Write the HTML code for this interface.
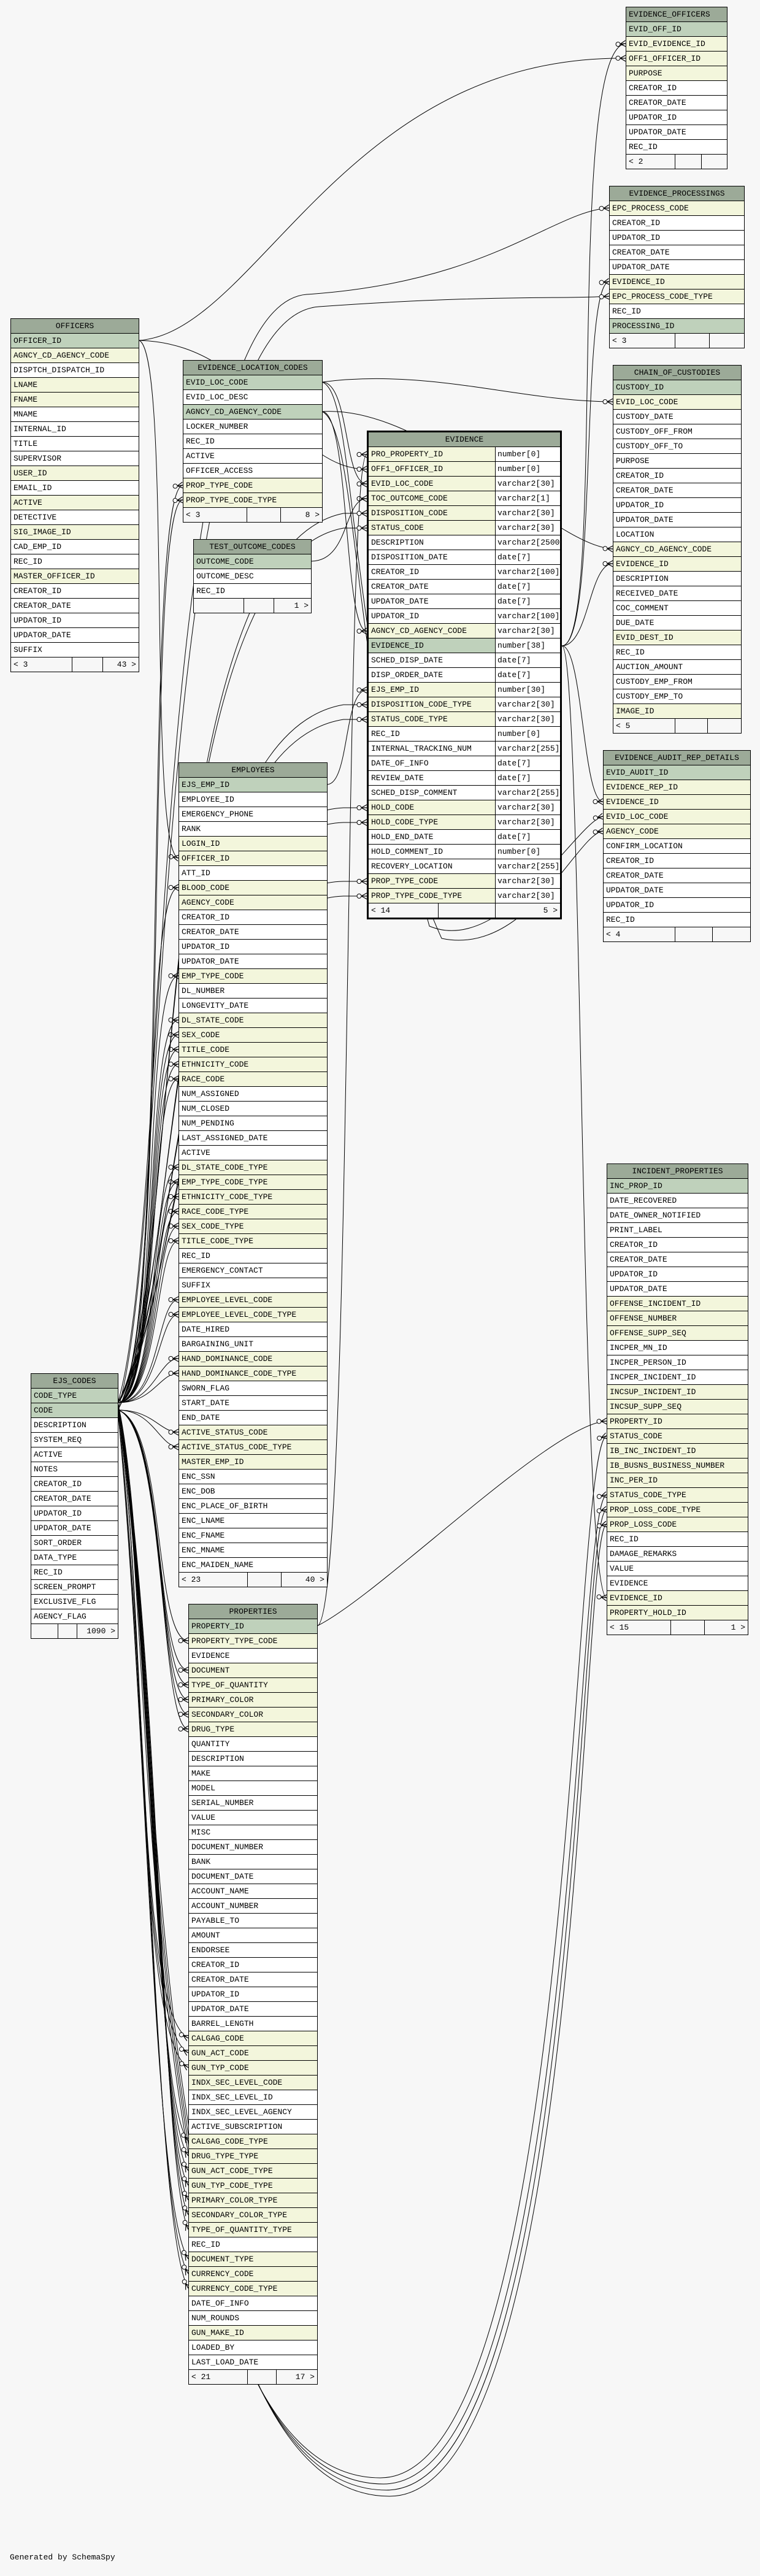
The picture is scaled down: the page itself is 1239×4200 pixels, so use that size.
<!DOCTYPE html>
<html><head><meta charset="utf-8"><style>
html,body{margin:0;padding:0;background:#f7f7f7;}
body{width:1239px;height:4200px;position:relative;overflow:hidden;font-family:"Liberation Mono","DejaVu Sans Mono",monospace;font-size:13px;color:#000;}
svg.c{position:absolute;left:0;top:0;z-index:1;}
.t{position:absolute;z-index:2;border:1px solid #000;background:#fff;}
.t div.r{height:23px;line-height:23px;border-bottom:1px solid #000;padding-left:4px;white-space:nowrap;overflow:hidden;}
.t div.h{background:#9caa98;text-align:center;padding-left:0;}
.t div.p{background:#bfd1bb;}
.t div.f{background:#f3f6dc;}
.t div.ft{display:flex;height:23px;line-height:23px;background:#f7f7f7;}
.ft span{border-right:1px solid #000;padding:0 4px;box-sizing:border-box;white-space:nowrap;}
.ft span:last-child{border-right:none;text-align:right;}
.ev{border:3px solid #000;}
.ev .r{display:flex;padding-left:0 !important;}
.ev .r span.a{width:207px;padding-left:4px;border-right:1px solid #000;box-sizing:border-box;flex:none;}
.ev .r span.b{padding-left:3px;background:#fff;flex:1;}
.gen{position:absolute;left:16px;top:4162px;font-size:13px;}
</style></head><body>

<svg class="c" width="1239" height="4200" viewBox="0 0 1239 4200">
<defs>
<marker id="m" markerUnits="userSpaceOnUse" markerWidth="18" markerHeight="12" refX="17" refY="6" orient="auto">
<circle cx="4.5" cy="6" r="3.5" fill="#fff" stroke="#000" stroke-width="1"/>
<path d="M8,6 L17,1 M8,6 L17,6 M8,6 L17,11" stroke="#000" stroke-width="1.2" fill="none"/>
</marker>
</defs>
<g fill="none" stroke="#000" stroke-width="1" marker-end="url(#m)">
<path d="M227,555 C420,540 560,90 1020,95"/>
<path d="M227,555 C420,560 470,765 598,765"/>
<path d="M227,555 C280,580 240,1390 291,1399"/>
<path d="M916,1053 C990,1053 920,80 1020,71"/>
<path d="M916,1053 C975,1053 945,465 993,459"/>
<path d="M916,1053 C960,1053 960,919 999,919"/>
<path d="M916,1053 C950,1053 950,1307 983,1307"/>
<path d="M916,1053 C950,1053 945,2600 989,2605"/>
<path d="M525,623 C570,623 560,789 598,789"/>
<path d="M525,623 C700,600 850,655 999,655"/>
<path d="M525,623 C580,640 560,1000 700,1510 C820,1560 940,1340 983,1331"/>
<path d="M525,671 C570,671 560,1029 598,1029"/>
<path d="M525,671 C700,660 900,890 999,895"/>
<path d="M525,671 C590,700 570,1200 720,1530 C860,1560 940,1360 983,1355"/>
<path d="M507,915 C570,915 560,813 598,813"/>
<path d="M533,1279 C570,1279 560,1125 598,1125"/>
<path d="M517,2651 C575,2640 560,741 598,741"/>
<path d="M517,2651 C620,2600 900,2320 989,2317"/>
<path d="M192,2287 C260,2287 230,1447 291,1447"/>
<path d="M192,2287 C260,2287 232,1591 291,1591"/>
<path d="M192,2287 C260,2287 234,1663 291,1663"/>
<path d="M192,2287 C260,2287 236,1687 291,1687"/>
<path d="M192,2287 C260,2287 238,1711 291,1711"/>
<path d="M192,2287 C260,2287 240,1735 291,1735"/>
<path d="M192,2287 C260,2287 242,1759 291,1759"/>
<path d="M192,2287 C260,2287 244,1903 291,1903"/>
<path d="M192,2287 C260,2287 246,1927 291,1927"/>
<path d="M192,2287 C260,2287 248,1951 291,1951"/>
<path d="M192,2287 C260,2287 250,1975 291,1975"/>
<path d="M192,2287 C260,2287 252,1999 291,1999"/>
<path d="M192,2287 C260,2287 254,2023 291,2023"/>
<path d="M192,2287 C260,2287 256,2119 291,2119"/>
<path d="M192,2287 C260,2287 258,2143 291,2143"/>
<path d="M192,2287 C250,2287 260,2215 291,2215"/>
<path d="M192,2287 C250,2287 260,2239 291,2239"/>
<path d="M192,2299 C250,2299 260,2335 291,2335"/>
<path d="M192,2299 C250,2299 260,2359 291,2359"/>
<path d="M192,2299 C270,2320 250,2675 307,2675"/>
<path d="M192,2299 C270,2320 252,2723 307,2723"/>
<path d="M192,2299 C270,2320 254,2747 307,2747"/>
<path d="M192,2299 C270,2320 256,2771 307,2771"/>
<path d="M192,2299 C270,2320 258,2795 307,2795"/>
<path d="M192,2299 C270,2320 260,2819 307,2819"/>
<path d="M192,2299 C240,2600 220,3280 307,3323"/>
<path d="M192,2299 C240,2600 220,3300 307,3347"/>
<path d="M192,2299 C240,2600 220,3320 307,3371"/>
<path d="M192,2287 C250,2700 250,3420 307,3491"/>
<path d="M192,2287 C252,2700 252,3440 307,3515"/>
<path d="M192,2287 C254,2700 254,3460 307,3539"/>
<path d="M192,2287 C256,2700 256,3480 307,3563"/>
<path d="M192,2287 C258,2700 258,3500 307,3587"/>
<path d="M192,2287 C260,2700 260,3520 307,3611"/>
<path d="M192,2287 C262,2700 262,3540 307,3635"/>
<path d="M192,2299 C240,2800 250,3600 307,3683"/>
<path d="M192,2299 C242,2800 252,3620 307,3707"/>
<path d="M192,2287 C244,2800 254,3640 307,3731"/>
<path d="M192,2287 C280,2200 230,800 298,791"/>
<path d="M192,2287 C282,2200 232,820 298,815"/>
<path d="M192,2299 C300,2100 240,900 560,837 C580,837 585,837 598,837"/>
<path d="M192,2287 C300,2100 240,920 560,861 C580,861 585,861 598,861"/>
<path d="M192,2299 C300,2100 260,1200 560,1149 C580,1149 585,1149 598,1149"/>
<path d="M192,2287 C300,2100 260,1220 560,1173 C580,1173 585,1173 598,1173"/>
<path d="M192,2299 C300,2100 280,1330 560,1317 C580,1317 585,1317 598,1317"/>
<path d="M192,2287 C300,2100 280,1350 560,1341 C580,1341 585,1341 598,1341"/>
<path d="M192,2299 C300,2100 300,1440 560,1437 C580,1437 585,1437 598,1437"/>
<path d="M192,2287 C300,2100 300,1470 560,1461 C580,1461 585,1461 598,1461"/>
<path d="M192,2287 C280,2000 240,500 500,480 C800,460 900,345 993,339"/>
<path d="M192,2299 C282,2000 242,520 520,500 C800,480 920,488 993,483"/>
<path d="M192,2299 C260,2600 200,4040 620,4040 C940,4040 930,2360 989,2341"/>
<path d="M192,2287 C262,2600 205,4050 625,4050 C945,4050 935,2450 989,2437"/>
<path d="M192,2299 C264,2600 210,4060 630,4060 C950,4060 940,2470 989,2461"/>
<path d="M192,2287 C266,2600 215,4070 635,4070 C955,4070 945,2495 989,2485"/>
</g>
</svg>

<div class="t" style="left:1020px;top:11px;width:164px;">
<div class="r h" style="text-align:left;padding-left:4px">EVIDENCE_OFFICERS</div>
<div class="r p">EVID_OFF_ID</div><div class="r f">EVID_EVIDENCE_ID</div><div class="r f">OFF1_OFFICER_ID</div><div class="r f">PURPOSE</div>
<div class="r">CREATOR_ID</div><div class="r">CREATOR_DATE</div><div class="r">UPDATOR_ID</div><div class="r">UPDATOR_DATE</div><div class="r">REC_ID</div>
<div class="ft"><span style="width:80px">&lt; 2</span><span style="width:43px"></span><span style="width:41px"></span></div>
</div>

<div class="t" style="left:993px;top:303px;width:219px;">
<div class="r h">EVIDENCE_PROCESSINGS</div>
<div class="r f">EPC_PROCESS_CODE</div><div class="r">CREATOR_ID</div><div class="r">UPDATOR_ID</div><div class="r">CREATOR_DATE</div><div class="r">UPDATOR_DATE</div>
<div class="r f">EVIDENCE_ID</div><div class="r f">EPC_PROCESS_CODE_TYPE</div><div class="r">REC_ID</div><div class="r p">PROCESSING_ID</div>
<div class="ft"><span style="width:107px">&lt; 3</span><span style="width:56px"></span><span style="width:56px"></span></div>
</div>

<div class="t" style="left:17px;top:519px;width:208px;">
<div class="r h">OFFICERS</div>
<div class="r p">OFFICER_ID</div><div class="r f">AGNCY_CD_AGENCY_CODE</div><div class="r">DISPTCH_DISPATCH_ID</div><div class="r f">LNAME</div><div class="r f">FNAME</div>
<div class="r">MNAME</div><div class="r">INTERNAL_ID</div><div class="r">TITLE</div><div class="r">SUPERVISOR</div><div class="r f">USER_ID</div><div class="r">EMAIL_ID</div>
<div class="r f">ACTIVE</div><div class="r">DETECTIVE</div><div class="r f">SIG_IMAGE_ID</div><div class="r">CAD_EMP_ID</div><div class="r">REC_ID</div><div class="r f">MASTER_OFFICER_ID</div>
<div class="r">CREATOR_ID</div><div class="r">CREATOR_DATE</div><div class="r">UPDATOR_ID</div><div class="r">UPDATOR_DATE</div><div class="r">SUFFIX</div>
<div class="ft"><span style="width:100px">&lt; 3</span><span style="width:50px"></span><span style="width:58px">43 &gt;</span></div>
</div>

<div class="t" style="left:298px;top:587px;width:226px;">
<div class="r h">EVIDENCE_LOCATION_CODES</div>
<div class="r p">EVID_LOC_CODE</div><div class="r">EVID_LOC_DESC</div><div class="r p">AGNCY_CD_AGENCY_CODE</div><div class="r">LOCKER_NUMBER</div>
<div class="r">REC_ID</div><div class="r">ACTIVE</div><div class="r">OFFICER_ACCESS</div><div class="r f">PROP_TYPE_CODE</div><div class="r f">PROP_TYPE_CODE_TYPE</div>
<div class="ft"><span style="width:104px">&lt; 3</span><span style="width:55px"></span><span style="width:67px">8 &gt;</span></div>
</div>

<div class="t" style="left:315px;top:879px;width:191px;">
<div class="r h">TEST_OUTCOME_CODES</div>
<div class="r p">OUTCOME_CODE</div><div class="r">OUTCOME_DESC</div><div class="r">REC_ID</div>
<div class="ft"><span style="width:82px"></span><span style="width:49px"></span><span style="width:60px">1 &gt;</span></div>
</div>

<div class="t" style="left:999px;top:595px;width:208px;">
<div class="r h">CHAIN_OF_CUSTODIES</div>
<div class="r p">CUSTODY_ID</div><div class="r f">EVID_LOC_CODE</div><div class="r">CUSTODY_DATE</div><div class="r">CUSTODY_OFF_FROM</div><div class="r">CUSTODY_OFF_TO</div>
<div class="r">PURPOSE</div><div class="r">CREATOR_ID</div><div class="r">CREATOR_DATE</div><div class="r">UPDATOR_ID</div><div class="r">UPDATOR_DATE</div><div class="r">LOCATION</div>
<div class="r f">AGNCY_CD_AGENCY_CODE</div><div class="r f">EVIDENCE_ID</div><div class="r">DESCRIPTION</div><div class="r">RECEIVED_DATE</div><div class="r">COC_COMMENT</div>
<div class="r">DUE_DATE</div><div class="r f">EVID_DEST_ID</div><div class="r">REC_ID</div><div class="r">AUCTION_AMOUNT</div><div class="r">CUSTODY_EMP_FROM</div><div class="r">CUSTODY_EMP_TO</div><div class="r f">IMAGE_ID</div>
<div class="ft"><span style="width:101px">&lt; 5</span><span style="width:53px"></span><span style="width:54px"></span></div>
</div>

<div class="t ev" style="left:598px;top:702px;width:312px;">
<div class="r h" style="display:block;text-align:center">EVIDENCE</div>
<div class="r f"><span class="a">PRO_PROPERTY_ID</span><span class="b">number[0]</span></div>
<div class="r f"><span class="a">OFF1_OFFICER_ID</span><span class="b">number[0]</span></div>
<div class="r f"><span class="a">EVID_LOC_CODE</span><span class="b">varchar2[30]</span></div>
<div class="r f"><span class="a">TOC_OUTCOME_CODE</span><span class="b">varchar2[1]</span></div>
<div class="r f"><span class="a">DISPOSITION_CODE</span><span class="b">varchar2[30]</span></div>
<div class="r f"><span class="a">STATUS_CODE</span><span class="b">varchar2[30]</span></div>
<div class="r"><span class="a">DESCRIPTION</span><span class="b">varchar2[2500]</span></div>
<div class="r"><span class="a">DISPOSITION_DATE</span><span class="b">date[7]</span></div>
<div class="r"><span class="a">CREATOR_ID</span><span class="b">varchar2[100]</span></div>
<div class="r"><span class="a">CREATOR_DATE</span><span class="b">date[7]</span></div>
<div class="r"><span class="a">UPDATOR_DATE</span><span class="b">date[7]</span></div>
<div class="r"><span class="a">UPDATOR_ID</span><span class="b">varchar2[100]</span></div>
<div class="r f"><span class="a">AGNCY_CD_AGENCY_CODE</span><span class="b">varchar2[30]</span></div>
<div class="r p"><span class="a">EVIDENCE_ID</span><span class="b">number[38]</span></div>
<div class="r"><span class="a">SCHED_DISP_DATE</span><span class="b">date[7]</span></div>
<div class="r"><span class="a">DISP_ORDER_DATE</span><span class="b">date[7]</span></div>
<div class="r f"><span class="a">EJS_EMP_ID</span><span class="b">number[30]</span></div>
<div class="r f"><span class="a">DISPOSITION_CODE_TYPE</span><span class="b">varchar2[30]</span></div>
<div class="r f"><span class="a">STATUS_CODE_TYPE</span><span class="b">varchar2[30]</span></div>
<div class="r"><span class="a">REC_ID</span><span class="b">number[0]</span></div>
<div class="r"><span class="a">INTERNAL_TRACKING_NUM</span><span class="b">varchar2[255]</span></div>
<div class="r"><span class="a">DATE_OF_INFO</span><span class="b">date[7]</span></div>
<div class="r"><span class="a">REVIEW_DATE</span><span class="b">date[7]</span></div>
<div class="r"><span class="a">SCHED_DISP_COMMENT</span><span class="b">varchar2[255]</span></div>
<div class="r f"><span class="a">HOLD_CODE</span><span class="b">varchar2[30]</span></div>
<div class="r f"><span class="a">HOLD_CODE_TYPE</span><span class="b">varchar2[30]</span></div>
<div class="r"><span class="a">HOLD_END_DATE</span><span class="b">date[7]</span></div>
<div class="r"><span class="a">HOLD_COMMENT_ID</span><span class="b">number[0]</span></div>
<div class="r"><span class="a">RECOVERY_LOCATION</span><span class="b">varchar2[255]</span></div>
<div class="r f"><span class="a">PROP_TYPE_CODE</span><span class="b">varchar2[30]</span></div>
<div class="r f"><span class="a">PROP_TYPE_CODE_TYPE</span><span class="b">varchar2[30]</span></div>
<div class="ft"><span style="width:114px">&lt; 14</span><span style="width:93px"></span><span style="width:105px">5 &gt;</span></div>
</div>

<div class="t" style="left:983px;top:1223px;width:239px;">
<div class="r h">EVIDENCE_AUDIT_REP_DETAILS</div>
<div class="r p">EVID_AUDIT_ID</div><div class="r f">EVIDENCE_REP_ID</div><div class="r f">EVIDENCE_ID</div><div class="r f">EVID_LOC_CODE</div><div class="r f">AGENCY_CODE</div>
<div class="r">CONFIRM_LOCATION</div><div class="r">CREATOR_ID</div><div class="r">CREATOR_DATE</div><div class="r">UPDATOR_DATE</div><div class="r">UPDATOR_ID</div><div class="r">REC_ID</div>
<div class="ft"><span style="width:117px">&lt; 4</span><span style="width:61px"></span><span style="width:61px"></span></div>
</div>

<div class="t" style="left:291px;top:1243px;width:241px;">
<div class="r h">EMPLOYEES</div>
<div class="r p">EJS_EMP_ID</div><div class="r">EMPLOYEE_ID</div><div class="r">EMERGENCY_PHONE</div><div class="r">RANK</div><div class="r f">LOGIN_ID</div><div class="r f">OFFICER_ID</div>
<div class="r">ATT_ID</div><div class="r f">BLOOD_CODE</div><div class="r f">AGENCY_CODE</div><div class="r">CREATOR_ID</div><div class="r">CREATOR_DATE</div><div class="r">UPDATOR_ID</div><div class="r">UPDATOR_DATE</div>
<div class="r f">EMP_TYPE_CODE</div><div class="r">DL_NUMBER</div><div class="r">LONGEVITY_DATE</div><div class="r f">DL_STATE_CODE</div><div class="r f">SEX_CODE</div><div class="r f">TITLE_CODE</div>
<div class="r f">ETHNICITY_CODE</div><div class="r f">RACE_CODE</div><div class="r">NUM_ASSIGNED</div><div class="r">NUM_CLOSED</div><div class="r">NUM_PENDING</div><div class="r">LAST_ASSIGNED_DATE</div><div class="r">ACTIVE</div>
<div class="r f">DL_STATE_CODE_TYPE</div><div class="r f">EMP_TYPE_CODE_TYPE</div><div class="r f">ETHNICITY_CODE_TYPE</div><div class="r f">RACE_CODE_TYPE</div><div class="r f">SEX_CODE_TYPE</div><div class="r f">TITLE_CODE_TYPE</div>
<div class="r">REC_ID</div><div class="r">EMERGENCY_CONTACT</div><div class="r">SUFFIX</div><div class="r f">EMPLOYEE_LEVEL_CODE</div><div class="r f">EMPLOYEE_LEVEL_CODE_TYPE</div><div class="r">DATE_HIRED</div>
<div class="r">BARGAINING_UNIT</div><div class="r f">HAND_DOMINANCE_CODE</div><div class="r f">HAND_DOMINANCE_CODE_TYPE</div><div class="r">SWORN_FLAG</div><div class="r">START_DATE</div><div class="r">END_DATE</div>
<div class="r f">ACTIVE_STATUS_CODE</div><div class="r f">ACTIVE_STATUS_CODE_TYPE</div><div class="r f">MASTER_EMP_ID</div><div class="r">ENC_SSN</div><div class="r">ENC_DOB</div><div class="r">ENC_PLACE_OF_BIRTH</div>
<div class="r">ENC_LNAME</div><div class="r">ENC_FNAME</div><div class="r">ENC_MNAME</div><div class="r">ENC_MAIDEN_NAME</div>
<div class="ft"><span style="width:112px">&lt; 23</span><span style="width:55px"></span><span style="width:74px">40 &gt;</span></div>
</div>

<div class="t" style="left:989px;top:1897px;width:229px;">
<div class="r h">INCIDENT_PROPERTIES</div>
<div class="r p">INC_PROP_ID</div><div class="r">DATE_RECOVERED</div><div class="r">DATE_OWNER_NOTIFIED</div><div class="r">PRINT_LABEL</div><div class="r">CREATOR_ID</div>
<div class="r">CREATOR_DATE</div><div class="r">UPDATOR_ID</div><div class="r">UPDATOR_DATE</div><div class="r f">OFFENSE_INCIDENT_ID</div><div class="r f">OFFENSE_NUMBER</div><div class="r f">OFFENSE_SUPP_SEQ</div>
<div class="r">INCPER_MN_ID</div><div class="r">INCPER_PERSON_ID</div><div class="r">INCPER_INCIDENT_ID</div><div class="r f">INCSUP_INCIDENT_ID</div><div class="r f">INCSUP_SUPP_SEQ</div>
<div class="r f">PROPERTY_ID</div><div class="r f">STATUS_CODE</div><div class="r f">IB_INC_INCIDENT_ID</div><div class="r f">IB_BUSNS_BUSINESS_NUMBER</div><div class="r f">INC_PER_ID</div>
<div class="r f">STATUS_CODE_TYPE</div><div class="r f">PROP_LOSS_CODE_TYPE</div><div class="r f">PROP_LOSS_CODE</div><div class="r">REC_ID</div><div class="r">DAMAGE_REMARKS</div><div class="r">VALUE</div>
<div class="r">EVIDENCE</div><div class="r f">EVIDENCE_ID</div><div class="r f">PROPERTY_HOLD_ID</div>
<div class="ft"><span style="width:104px">&lt; 15</span><span style="width:55px"></span><span style="width:70px">1 &gt;</span></div>
</div>

<div class="t" style="left:50px;top:2239px;width:141px;">
<div class="r h">EJS_CODES</div>
<div class="r p">CODE_TYPE</div><div class="r p">CODE</div><div class="r">DESCRIPTION</div><div class="r">SYSTEM_REQ</div><div class="r">ACTIVE</div><div class="r">NOTES</div>
<div class="r">CREATOR_ID</div><div class="r">CREATOR_DATE</div><div class="r">UPDATOR_ID</div><div class="r">UPDATOR_DATE</div><div class="r">SORT_ORDER</div><div class="r">DATA_TYPE</div>
<div class="r">REC_ID</div><div class="r">SCREEN_PROMPT</div><div class="r">EXCLUSIVE_FLG</div><div class="r">AGENCY_FLAG</div>
<div class="ft"><span style="width:44px"></span><span style="width:31px"></span><span style="width:66px">1090 &gt;</span></div>
</div>

<div class="t" style="left:307px;top:2615px;width:209px;">
<div class="r h">PROPERTIES</div>
<div class="r p">PROPERTY_ID</div><div class="r f">PROPERTY_TYPE_CODE</div><div class="r">EVIDENCE</div><div class="r f">DOCUMENT</div><div class="r f">TYPE_OF_QUANTITY</div>
<div class="r f">PRIMARY_COLOR</div><div class="r f">SECONDARY_COLOR</div><div class="r f">DRUG_TYPE</div><div class="r">QUANTITY</div><div class="r">DESCRIPTION</div><div class="r">MAKE</div>
<div class="r">MODEL</div><div class="r">SERIAL_NUMBER</div><div class="r">VALUE</div><div class="r">MISC</div><div class="r">DOCUMENT_NUMBER</div><div class="r">BANK</div><div class="r">DOCUMENT_DATE</div>
<div class="r">ACCOUNT_NAME</div><div class="r">ACCOUNT_NUMBER</div><div class="r">PAYABLE_TO</div><div class="r">AMOUNT</div><div class="r">ENDORSEE</div><div class="r">CREATOR_ID</div>
<div class="r">CREATOR_DATE</div><div class="r">UPDATOR_ID</div><div class="r">UPDATOR_DATE</div><div class="r">BARREL_LENGTH</div><div class="r f">CALGAG_CODE</div><div class="r f">GUN_ACT_CODE</div>
<div class="r f">GUN_TYP_CODE</div><div class="r f">INDX_SEC_LEVEL_CODE</div><div class="r">INDX_SEC_LEVEL_ID</div><div class="r">INDX_SEC_LEVEL_AGENCY</div><div class="r">ACTIVE_SUBSCRIPTION</div>
<div class="r f">CALGAG_CODE_TYPE</div><div class="r f">DRUG_TYPE_TYPE</div><div class="r f">GUN_ACT_CODE_TYPE</div><div class="r f">GUN_TYP_CODE_TYPE</div><div class="r f">PRIMARY_COLOR_TYPE</div>
<div class="r f">SECONDARY_COLOR_TYPE</div><div class="r f">TYPE_OF_QUANTITY_TYPE</div><div class="r">REC_ID</div><div class="r f">DOCUMENT_TYPE</div><div class="r f">CURRENCY_CODE</div>
<div class="r f">CURRENCY_CODE_TYPE</div><div class="r">DATE_OF_INFO</div><div class="r">NUM_ROUNDS</div><div class="r f">GUN_MAKE_ID</div><div class="r">LOADED_BY</div><div class="r">LAST_LOAD_DATE</div>
<div class="ft"><span style="width:96px">&lt; 21</span><span style="width:47px"></span><span style="width:66px">17 &gt;</span></div>
</div>

<div class="gen">Generated by SchemaSpy</div>
</body></html>
